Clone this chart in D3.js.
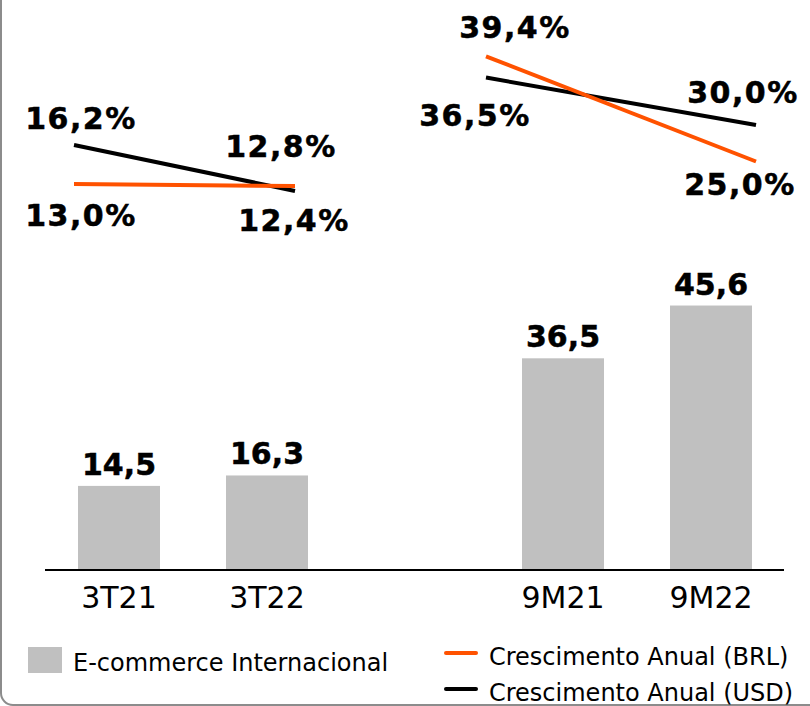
<!DOCTYPE html>
<html>
<head>
<meta charset="utf-8">
<script src="https://cdn.jsdelivr.net/npm/d3@7"></script>
<style>
  body { margin: 0; background: #fff; }
  svg { display: block; font-family: "DejaVu Sans", Verdana, sans-serif; }
  .heavy { font-weight: bold; stroke: #000; stroke-width: 0.5px; }
</style>
</head>
<body>
<svg id="chart" width="810" height="706"></svg>
<script>
// data
const categories = ['3T21', '3T22', '9M21', '9M22'];
const revenue = [14.5, 16.3, 36.5, 45.6];          // E-commerce Internacional
const groups = ['3T', '9M'];
const growthBRL = { '3T': [13.0, 12.4], '9M': [39.4, 25.0] };
const growthUSD = { '3T': [16.2, 12.8], '9M': [36.5, 30.0] };

const orange = '#ff5200';
const barColor = '#c0c0c0';

const svg = d3.select('#chart');

// frame (left/bottom edge of the slide box)
svg.append('rect')
  .attr('x', 1).attr('y', -40)
  .attr('width', 900).attr('height', 745)
  .attr('rx', 12)
  .attr('fill', 'none')
  .attr('stroke', '#8c8c8c')
  .attr('stroke-width', 2);

// bars -------------------------------------------------
const x = d3.scaleBand()
  .domain(['3T21', '3T22', 'gap', '9M21', '9M22'])
  .range([45, 785])
  .paddingInner(0.446)
  .paddingOuter(0.223);

const y = d3.scaleLinear().domain([0, 50]).range([570, 280]);

svg.selectAll('.bar')
  .data(categories)
  .enter()
  .append('rect')
  .attr('class', 'bar')
  .attr('x', (d) => x(d))
  .attr('y', (d, i) => y(revenue[i]))
  .attr('width', x.bandwidth())
  .attr('height', (d, i) => y(0) - y(revenue[i]))
  .attr('fill', barColor);

svg.selectAll('.bar-label')
  .data(categories)
  .enter()
  .append('text')
  .attr('class', 'bar-label heavy')
  .attr('x', (d) => x(d) + x.bandwidth() / 2)
  .attr('y', (d, i) => y(revenue[i]) - 11)
  .attr('text-anchor', 'middle')
  .attr('font-size', 30)
  .text((d, i) => d3.format('.1f')(revenue[i]).replace('.', ','));

// axis line + category labels
svg.append('line')
  .attr('x1', 45).attr('x2', 784)
  .attr('y1', y(0)).attr('y2', y(0))
  .attr('stroke', '#000')
  .attr('stroke-width', 2);

svg.selectAll('.cat')
  .data(categories)
  .enter()
  .append('text')
  .attr('class', 'cat')
  .attr('x', (d) => x(d) + x.bandwidth() / 2)
  .attr('y', 608)
  .attr('text-anchor', 'middle')
  .attr('font-size', 30)
  .text((d) => d);

// growth lines -----------------------------------------
// each period block has its own horizontal span and value scales
const panels = {
  '3T': {
    x: d3.scalePoint().domain([0, 1]).range([74, 295]),
    yBRL: d3.scaleLinear().domain([12.4, 13.0]).range([186, 184]),
    yUSD: d3.scaleLinear().domain([12.8, 16.2]).range([191, 145]),
    offBRL: [[7, 42], [-1, 45]],
    offUSD: [[7, -16], [-14, -34]]
  },
  '9M': {
    x: d3.scalePoint().domain([0, 1]).range([486, 756]),
    yBRL: d3.scaleLinear().domain([25, 40]).range([161.5, 52]),
    yUSD: d3.scaleLinear().domain([25, 40]).range([161.5, 52]),
    offBRL: [[29, -18], [-16, 33]],
    offUSD: [[-11, 48], [-13, -22]]
  }
};

const pct = (v) => d3.format('.1f')(v).replace('.', ',') + '%';

groups.forEach((g) => {
  const p = panels[g];
  const series = [
    { values: growthUSD[g], yScale: p.yUSD, color: '#000', off: p.offUSD },
    { values: growthBRL[g], yScale: p.yBRL, color: orange, off: p.offBRL }
  ];

  series.forEach((s) => {
    const line = d3.line()
      .x((d, i) => p.x(i))
      .y((d) => s.yScale(d));

    svg.append('path')
      .datum(s.values)
      .attr('d', line)
      .attr('fill', 'none')
      .attr('stroke', s.color)
      .attr('stroke-width', 4);
  });

  series.forEach((s) => {
    svg.selectAll(null)
      .data(s.values)
      .enter()
      .append('text')
      .attr('class', 'heavy')
      .attr('x', (d, i) => p.x(i) + s.off[i][0])
      .attr('y', (d, i) => s.yScale(d) + s.off[i][1])
      .attr('text-anchor', 'middle')
      .attr('font-size', 30)
      .attr('letter-spacing', 1.5)
      .text((d) => pct(d));
  });
});

// legend -----------------------------------------------
svg.append('rect')
  .attr('x', 28).attr('y', 647)
  .attr('width', 34).attr('height', 26)
  .attr('fill', barColor);

svg.append('text')
  .attr('x', 73).attr('y', 671)
  .attr('font-size', 24)
  .text('E-commerce Internacional');

const lineLegend = [
  { label: 'Crescimento Anual (BRL)', color: orange, y: 653 },
  { label: 'Crescimento Anual (USD)', color: '#000', y: 689 }
];

const lg = svg.selectAll('.lg')
  .data(lineLegend)
  .enter()
  .append('g')
  .attr('class', 'lg');

lg.append('line')
  .attr('x1', 446).attr('x2', 476)
  .attr('y1', (d) => d.y).attr('y2', (d) => d.y)
  .attr('stroke', (d) => d.color)
  .attr('stroke-width', 4)
  .attr('stroke-linecap', 'round');

lg.append('text')
  .attr('x', 489)
  .attr('y', (d) => d.y + 12)
  .attr('font-size', 24)
  .text((d) => d.label);
</script>
</body>
</html>
